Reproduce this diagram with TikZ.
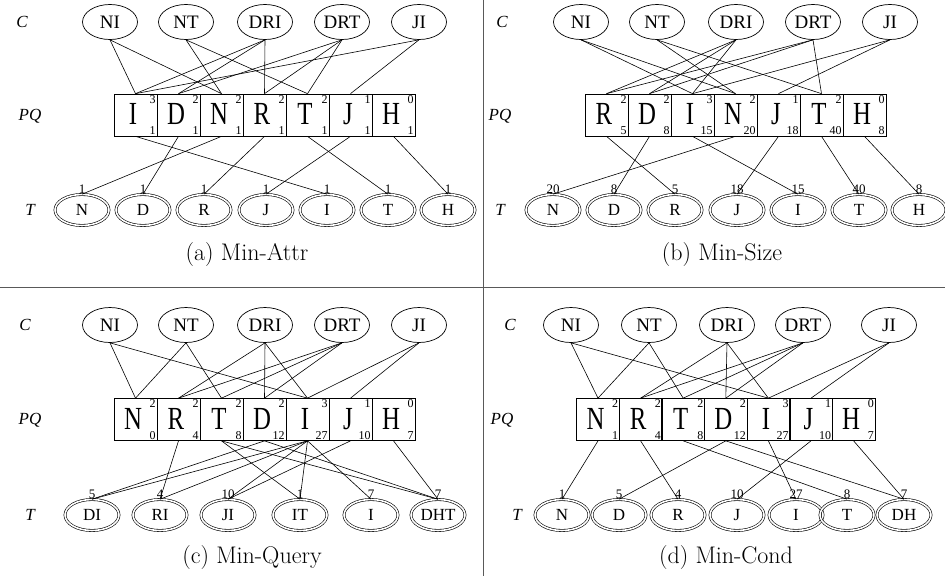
\documentclass[tikz,border=0pt]{standalone}
\usepackage{fontspec}
\usepackage{graphicx}
\usetikzlibrary{shapes.geometric}
\newfontfamily\tms{Liberation Serif}
\newcommand{\pqtxt}[1]{\raisebox{1.5pt}{\scalebox{1.08}[1.4]{#1}}\kern5pt}
\tikzset{
  cnode/.style={draw, ellipse, line width=0.7pt, minimum width=55pt, minimum height=35pt,
    inner sep=0pt, font=\tms\fontsize{19}{19}\selectfont},
  tnode/.style={draw, ellipse, double, double distance=1.6pt, line width=0.6pt,
    minimum width=54pt, minimum height=31pt, inner sep=0pt, font=\tms\fontsize{17}{17}\selectfont},
  pqbox/.style={draw, rectangle, line width=0.7pt, minimum width=43pt, minimum height=42pt,
    inner sep=0pt, font=\tms\fontsize{23}{23}\selectfont},
  smallnum/.style={inner sep=1.5pt, font=\tms\fontsize{12}{12}\selectfont},
  cnt/.style={anchor=south, inner sep=0.5pt, font=\tms\fontsize{13}{13}\selectfont},
  rowlbl/.style={font=\tms\itshape\fontsize{17}{17}\selectfont},
  capt/.style={font=\fontsize{24}{24}\selectfont},
  edge/.style={line width=0.6pt},
  divider/.style={draw=black!65, line width=1pt}
}
\begin{document}
\begin{tikzpicture}[x=1pt, y=-1pt]
  \useasboundingbox (0,0) rectangle (945,576);
  \draw[divider] (483,0) -- (483,576);
  \draw[divider] (0,287) -- (945,287);

  % (a) Min-Attr
  \node[rowlbl] (aLC) at (22,22) {C};
  \node[rowlbl] (aLP) at (30,116) {PQ};
  \node[rowlbl] (aLT) at (30,210) {T};
  \foreach \n/\x in {NI/110, NT/186, DRI/265, DRT/342, JI/419}
    \node[cnode] (aC-\n) at (\x,22) {\n};
  \foreach \n/\s/\b [count=\i from 0] in {I/3/1, D/2/1, N/2/1, R/2/1, T/2/1, J/1/1, H/0/1}{
    \node[pqbox] (aP-\n) at (135.5+43*\i,115) {\pqtxt{\n}};
    \node[smallnum, anchor=north east] at (aP-\n.north east) {\s};
    \node[smallnum, anchor=south east] at (aP-\n.south east) {\b};
  }
  \foreach \n/\k/\x in {N/1/82, D/1/143, R/1/204, J/1/266, I/1/327, T/1/388, H/1/448}{
    \node[tnode] (aT-\n) at (\x,210) {\n};
    \node[cnt] at (aT-\n.north) {\k};
  }
  \foreach \c/\p in {NI/I, NI/N, NT/N, NT/T, DRI/I, DRI/D, DRI/R, DRT/D, DRT/R, DRT/T, JI/I, JI/J}
    \draw[edge] (aC-\c.south) -- (aP-\p.north);
  \foreach \n in {I, D, N, R, T, J, H}
    \draw[edge] (aP-\n.south) -- (aT-\n.north);
  \node[capt] (aCap) at (247,255) {(a) Min-Attr};

  % (b) Min-Size
  \node[rowlbl] (bLC) at (502,22) {C};
  \node[rowlbl] (bLP) at (500,116) {PQ};
  \node[rowlbl] (bLT) at (500,210) {T};
  \foreach \n/\x in {NI/581, NT/657, DRI/736, DRT/813, JI/890}
    \node[cnode] (bC-\n) at (\x,22) {\n};
  \foreach \n/\s/\b [count=\i from 0] in {R/2/5, D/2/8, I/3/15, N/2/20, J/1/18, T/2/40, H/0/8}{
    \node[pqbox] (bP-\n) at (606.5+43*\i,115) {\pqtxt{\n}};
    \node[smallnum, anchor=north east] at (bP-\n.north east) {\s};
    \node[smallnum, anchor=south east] at (bP-\n.south east) {\b};
  }
  \foreach \n/\k/\x in {N/20/553, D/8/614, R/5/675, J/18/737, I/15/798, T/40/859, H/8/919}{
    \node[tnode] (bT-\n) at (\x,210) {\n};
    \node[cnt] at (bT-\n.north) {\k};
  }
  \foreach \c/\p in {NI/I, NI/N, NT/N, NT/T, DRI/R, DRI/D, DRI/I, DRT/R, DRT/D, DRT/T, JI/I, JI/J}
    \draw[edge] (bC-\c.south) -- (bP-\p.north);
  \foreach \n in {R, D, I, N, J, T, H}
    \draw[edge] (bP-\n.south) -- (bT-\n.north);
  \node[capt] (bCap) at (722,255) {(b) Min-Size};

  % (c) Min-Query
  \node[rowlbl] (cLC) at (25,325) {C};
  \node[rowlbl] (cLP) at (30,420) {PQ};
  \node[rowlbl] (cLT) at (30,515) {T};
  \foreach \n/\x in {NI/110, NT/186, DRI/265, DRT/342, JI/419}
    \node[cnode] (cC-\n) at (\x,325) {\n};
  \foreach \n/\s/\b [count=\i from 0] in {N/2/0, R/2/4, T/2/8, D/2/12, I/3/27, J/1/10, H/0/7}{
    \node[pqbox] (cP-\n) at (135.5+43*\i,419.5) {\pqtxt{\n}};
    \node[smallnum, anchor=north east] at (cP-\n.north east) {\s};
    \node[smallnum, anchor=south east] at (cP-\n.south east) {\b};
  }
  \foreach \n/\k/\x in {DI/5/92, RI/4/160, JI/10/228, IT/1/300, I/7/371, DHT/7/438}{
    \node[tnode] (cT-\n) at (\x,515) {\n};
    \node[cnt] at (cT-\n.north) {\k};
  }
  \foreach \c/\p in {NI/N, NI/I, NT/N, NT/T, DRI/R, DRI/D, DRI/I, DRT/R, DRT/T, DRT/D, JI/I, JI/J}
    \draw[edge] (cC-\c.south) -- (cP-\p.north);
  \foreach \p/\t in {R/RI, T/IT, T/DHT, D/DI, D/DHT, I/DI, I/RI, I/JI, I/IT, I/I, J/JI, H/DHT}
    \draw[edge] (cP-\p.south) -- (cT-\t.north);
  \node[capt] (cCap) at (252,558) {(c) Min-Query};

  % (d) Min-Cond
  \node[rowlbl] (dLC) at (510,325) {C};
  \node[rowlbl] (dLP) at (502,420) {PQ};
  \node[rowlbl] (dLT) at (517,515) {T};
  \foreach \n/\x in {NI/571, NT/649, DRI/727, DRT/803, JI/889}
    \node[cnode] (dC-\n) at (\x,325) {\n};
  \foreach \n/\s/\b [count=\i from 0] in {N/2/1, R/2/4, T/2/8, D/2/12, I/3/27, J/1/10, H/0/7}{
    \node[pqbox] (dP-\n) at (598+42.6*\i,419.5) {\pqtxt{\n}};
    \node[smallnum, anchor=north east] at (dP-\n.north east) {\s};
    \node[smallnum, anchor=south east] at (dP-\n.south east) {\b};
  }
  \foreach \n/\k/\x in {N/1/562, D/5/619, R/4/678, J/10/737, I/27/796, T/8/847, DH/7/904}{
    \node[tnode] (dT-\n) at (\x,515) {\n};
    \node[cnt] at (dT-\n.north) {\k};
  }
  \foreach \c/\p in {NI/N, NI/I, NT/N, NT/T, DRI/R, DRI/D, DRI/I, DRT/R, DRT/T, DRT/D, JI/I, JI/J}
    \draw[edge] (dC-\c.south) -- (dP-\p.north);
  \foreach \p/\t in {N/N, R/R, T/T, D/D, D/DH, I/I, J/J, H/DH}
    \draw[edge] (dP-\p.south) -- (dT-\t.north);
  \node[capt] (dCap) at (726,558) {(d) Min-Cond};
\end{tikzpicture}
\end{document}
